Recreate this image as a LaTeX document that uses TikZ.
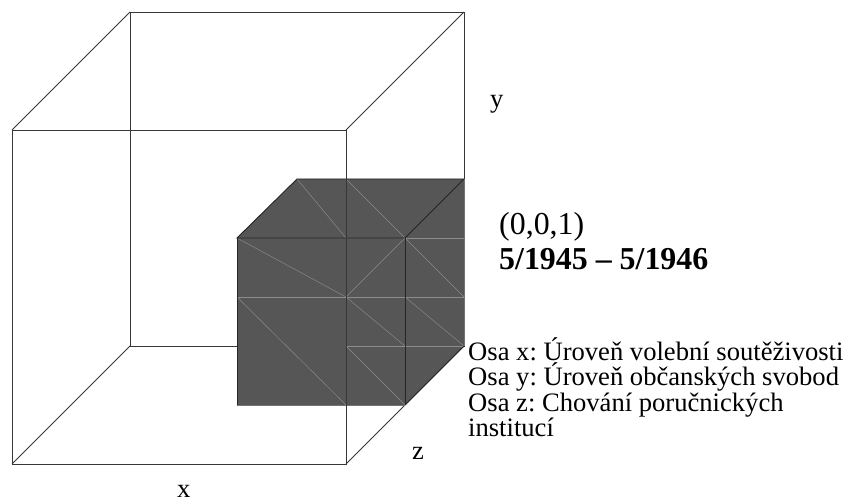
\documentclass[tikz,border=0pt]{standalone}
\usepackage{fontspec}
\setmainfont{Liberation Serif}
\frenchspacing
\definecolor{cubefill}{RGB}{86,86,86}
\definecolor{tri}{RGB}{140,140,140}
\definecolor{edge}{RGB}{55,55,55}
\begin{document}
\begin{tikzpicture}[x=1pt,y=-1pt,
  wire/.style={draw=edge, line width=0.8pt},
  triline/.style={draw=tri, line width=0.45pt},
  darkedge/.style={draw=black!85, line width=0.9pt},
  softedge/.style={draw=black!55, line width=0.8pt},
  lbl/.style={font=\fontsize{26.6}{25}\selectfont, inner sep=0pt, anchor=base west},
  biglbl/.style={font=\fontsize{31.9}{34}\selectfont, inner sep=0pt, anchor=base west},
]
\useasboundingbox (0,0) rectangle (846,502);
% big wireframe cube
\coordinate (A) at (12,130);
\coordinate (B) at (346,130);
\coordinate (C) at (346,464);
\coordinate (D) at (12,464);
\coordinate (E) at (130,12);
\coordinate (F) at (464,12);
\coordinate (G) at (464,346);
\coordinate (H) at (130,346);
\draw[wire] (A) -- (B) -- (C) -- (D) -- cycle;
\draw[wire] (E) -- (F) -- (G) -- (H) -- cycle;
\draw[wire] (A) -- (E) (B) -- (F) (C) -- (G) (D) -- (H);
% small dark cube
\coordinate (a) at (237,238);
\coordinate (b) at (405,238);
\coordinate (c) at (405,405);
\coordinate (d) at (237,405);
\coordinate (e) at (297,179);
\coordinate (f) at (464,179);
\coordinate (g) at (464,346);
\fill[cubefill] (a) -- (e) -- (f) -- (g) -- (c) -- (d) -- cycle;
% faint triangulation lines
\draw[triline] (297,179) -- (346,238);
\draw[triline] (346,179) -- (405,238);
\draw[triline] (237,238) -- (346,297);
\draw[triline] (237,297) -- (464,297);
\draw[triline] (237,297) -- (346,405);
\draw[triline] (346,297) -- (405,238);
\draw[triline] (346,297) -- (405,346);
\draw[triline] (346,346) -- (464,346);
\draw[triline] (346,346) -- (405,405);
\draw[triline] (405,238) -- (464,238);
\draw[triline] (405,238) -- (464,297);
\draw[triline] (405,297) -- (464,346);
% edges of dark cube
\draw[darkedge] (a) -- (e) -- (f) -- (b) -- cycle;
\draw[darkedge] (b) -- (c);
\draw[darkedge] (a) -- (d);
\draw[softedge] (d) -- (c);
\draw[softedge] (f) -- (g);
\draw[darkedge] (g) -- (c);
\draw[wire] (B) -- (C);
% labels
\node[lbl] (ylab) at (490,108) {y};
\node[lbl] (zlab) at (412,459) {z};
\node[lbl] (xlab) at (177,497) {x};
\node[biglbl] (coord) at (499,235) {(0,0,1)};
\node[biglbl] (period) at (499,270) {\bfseries 5/1945 – 5/1946};
\node[lbl] (osa1) at (468,361) {Osa x: Úroveň volební soutěživosti};
\node[lbl] (osa2) at (468,386) {Osa y: Úroveň občanských svobod};
\node[lbl] (osa3) at (468,411) {Osa z: Chování poručnických};
\node[lbl] (osa4) at (468,436) {institucí};
\end{tikzpicture}
\end{document}
